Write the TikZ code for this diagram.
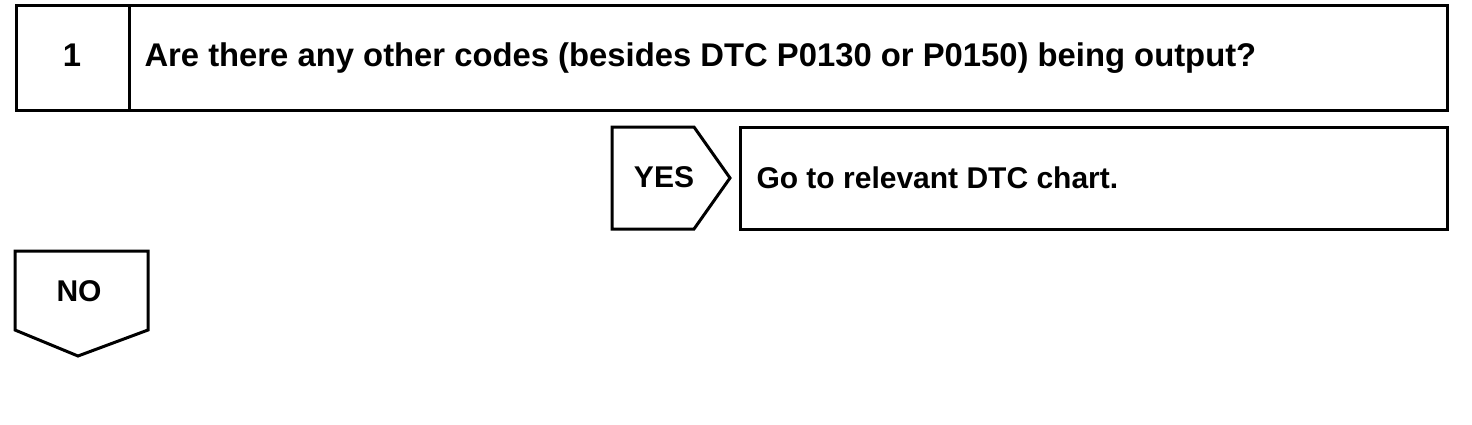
\documentclass[tikz,border=0pt]{standalone}
\usepackage{fontspec}
\setmainfont{Liberation Sans}
\tikzset{every picture/.style={line width=1.5pt}}
\tikzset{steptext/.style={font=\bfseries\fontsize{15}{18}\selectfont, inner sep=0pt}}
\tikzset{bigtext/.style={font=\bfseries\fontsize{16.4}{19}\selectfont, inner sep=0pt}}

\begin{document}
\begin{tikzpicture}[x=0.5pt,y=0.5pt,yscale=-1,xscale=1]
\useasboundingbox (0,0) rectangle (1472,424);

%Shape: Rectangle [id:question]
\draw (16,5) rectangle (1447,110);
%Straight Lines [id:divider]
\draw (129,5) -- (129,110);
%Shape: Yes arrow [id:yes]
\draw (612,127) -- (694,127) -- (730,178) -- (694,229) -- (612,229) -- cycle;
%Shape: Rectangle [id:answer]
\draw (740,127) rectangle (1447,229);
%Shape: No arrow [id:no]
\draw (15,251) -- (148,251) -- (148,330) -- (78,356) -- (15,330) -- cycle;

% Text Node
\node (num) at (72,66) [anchor=base][bigtext] {1};
% Text Node
\node (ques) at (143,66) [anchor=base west][bigtext] {Are there any other codes (besides DTC P0130 or P0150) being output?};
% Text Node
\node (yestxt) at (664,187) [anchor=base][steptext] {YES};
% Text Node
\node (ans) at (755,188) [anchor=base west][steptext] {Go to relevant DTC chart.};
% Text Node
\node (notxt) at (79,301) [anchor=base][steptext] {NO};

\end{tikzpicture}
\end{document}
